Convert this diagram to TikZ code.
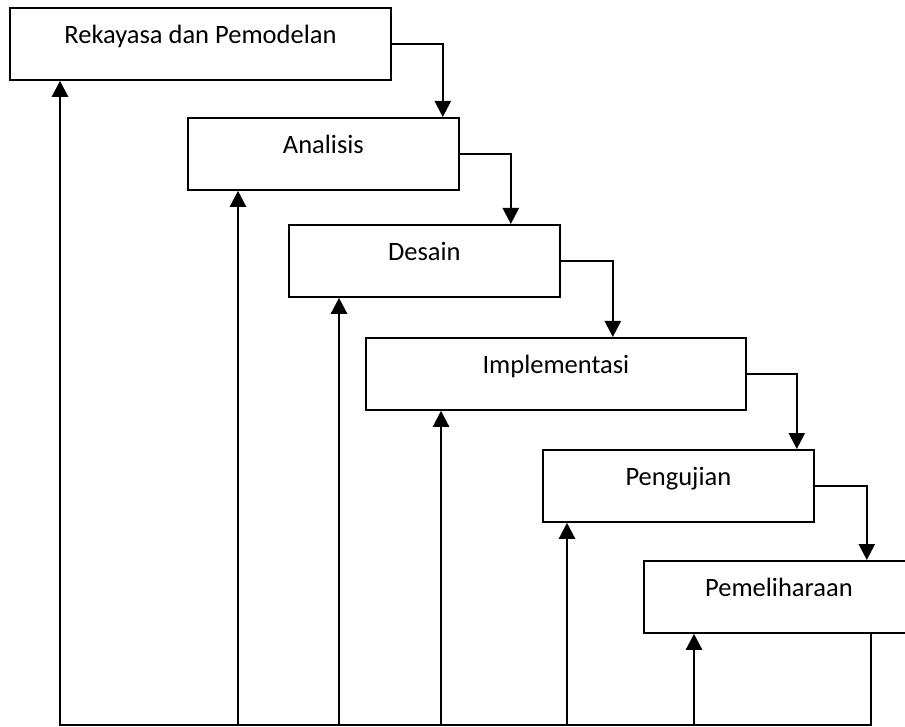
\documentclass[tikz,border=0pt]{standalone}
\usepackage{fontspec}
\setmainfont{Carlito}
\usetikzlibrary{arrows.meta}
\begin{document}
\begin{tikzpicture}[x=1pt,y=-1pt,
  stage/.style={draw, line width=1.8pt, anchor=north west, minimum height=72pt,
    text height=13pt, text depth=13pt, inner sep=0pt,
    font=\fontsize{26.5}{30}\selectfont},
  flow/.style={line width=2.4pt, -{Triangle[width=16pt,length=16pt]}}]
\clip (0,0) rectangle (905,727);
% waterfall stages
\node[stage, minimum width=381pt] (rek) at (9,7)   {Rekayasa dan Pemodelan};
\node[stage, minimum width=271pt] (ana) at (187,117) {Analisis};
\node[stage, minimum width=271pt] (des) at (288,224) {Desain};
\node[stage, minimum width=380pt] (imp) at (365,337) {Implementasi};
\node[stage, minimum width=271pt] (uji) at (542,449) {Pengujian};
\node[stage, minimum width=270pt] (pem) at (643,560) {Pemeliharaan};
% forward flow between stages
\draw[flow] (rek.east) -- ++(51,0) coordinate (k1) -- (k1 |- ana.north);
\draw[flow] (ana.east) -- ++(51,0) coordinate (k2) -- (k2 |- des.north);
\draw[flow] (des.east) -- ++(52,0) coordinate (k3) -- (k3 |- imp.north);
\draw[flow] (imp.east) -- ++(50,0) coordinate (k4) -- (k4 |- uji.north);
\draw[flow] (uji.east) -- ++(52,0) coordinate (k5) -- (k5 |- pem.north);
% feedback bus along the bottom
\coordinate (b1) at (60,725);
\coordinate (b2) at (238,725);
\coordinate (b3) at (339,725);
\coordinate (b4) at (441,725);
\coordinate (b5) at (567,725);
\coordinate (b6) at (694,725);
\coordinate (r) at (871,725);
\draw[flow] (r |- pem.south) -- (r) -- (b1) -- (b1 |- rek.south);
\draw[flow] (b2) -- (b2 |- ana.south);
\draw[flow] (b3) -- (b3 |- des.south);
\draw[flow] (b4) -- (b4 |- imp.south);
\draw[flow] (b5) -- (b5 |- uji.south);
\draw[flow] (b6) -- (b6 |- pem.south);
\end{tikzpicture}
\end{document}
